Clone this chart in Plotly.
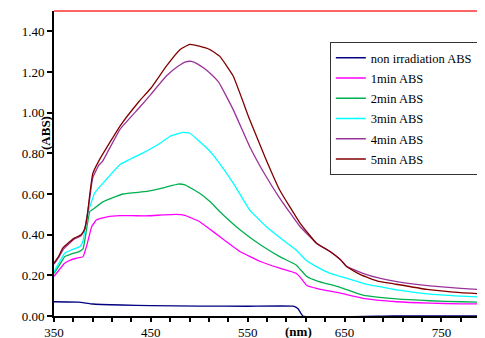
import plotly.graph_objects as go

# ---- data ----
wl_blue = [350, 375, 390, 420, 450, 500, 550, 597, 602, 607, 700, 795]
abs_blue = [0.070, 0.068, 0.059, 0.054, 0.051, 0.049, 0.048, 0.048, 0.036, 0.0, 0.0, 0.0]

wl_1 = [350, 355, 361, 367, 373, 380, 384, 389, 394, 405, 418, 435, 448, 462, 476, 485, 500, 511, 521,
        542, 563, 583, 600, 606, 611, 622, 635, 646, 669, 704, 738, 770, 795]
abs_1 = [0.195, 0.225, 0.260, 0.275, 0.284, 0.292, 0.350, 0.440, 0.473, 0.488, 0.494, 0.493, 0.493, 0.497,
         0.500, 0.495, 0.465, 0.427, 0.391, 0.317, 0.268, 0.235, 0.210, 0.180, 0.150, 0.135, 0.122, 0.112,
         0.087, 0.070, 0.063, 0.060, 0.059]

wl_2 = [350, 355, 361, 368, 376, 380, 387, 392, 400, 421, 446, 465, 478, 485, 500, 511, 521, 542, 563,
        583, 600, 606, 611, 622, 635, 646, 669, 704, 738, 770, 795]
abs_2 = [0.210, 0.245, 0.292, 0.305, 0.317, 0.330, 0.514, 0.531, 0.560, 0.600, 0.613, 0.633, 0.649,
         0.645, 0.605, 0.563, 0.514, 0.424, 0.350, 0.292, 0.251, 0.220, 0.194, 0.172, 0.155, 0.140, 0.103,
         0.084, 0.075, 0.070, 0.067]

wl_3 = [350, 355, 361, 368, 377, 380, 384, 392, 400, 418, 441, 458, 470, 483, 490, 500, 511, 518, 535,
        552, 569, 586, 600, 605, 610, 620, 635, 646, 669, 704, 738, 770, 795]
abs_3 = [0.218, 0.260, 0.309, 0.325, 0.342, 0.370, 0.490, 0.605, 0.650, 0.744, 0.800, 0.845, 0.884,
         0.903, 0.900, 0.859, 0.810, 0.769, 0.654, 0.522, 0.440, 0.375, 0.325, 0.300, 0.276, 0.245, 0.210,
         0.194, 0.161, 0.128, 0.108, 0.098, 0.092]

wl_4 = [350, 355, 360, 370, 378, 382, 386, 390, 396, 400, 418, 438, 450, 466, 478, 486, 492, 498, 505,
        512, 520, 535, 552, 569, 583, 604, 621, 635, 646, 652, 669, 686, 704, 738, 770, 795]
abs_4 = [0.255, 0.290, 0.330, 0.375, 0.395, 0.430, 0.550, 0.680, 0.740, 0.760, 0.917, 1.024, 1.090,
         1.180, 1.228, 1.250, 1.252, 1.240, 1.218, 1.190, 1.150, 1.015, 0.834, 0.686, 0.580, 0.440, 0.358,
         0.317, 0.275, 0.245, 0.210, 0.186, 0.169, 0.148, 0.136, 0.128]

wl_5 = [350, 355, 359, 365, 371, 378, 381, 384, 387, 390, 397, 418, 438, 450, 466, 480, 490, 500, 511,
        521, 535, 552, 569, 583, 604, 621, 635, 646, 652, 667, 684, 701, 735, 770, 795]
abs_5 = [0.260, 0.295, 0.334, 0.360, 0.383, 0.400, 0.420, 0.480, 0.600, 0.700, 0.769, 0.933, 1.056,
         1.120, 1.229, 1.310, 1.336, 1.327, 1.310, 1.278, 1.180, 0.966, 0.769, 0.620, 0.457, 0.358, 0.317,
         0.276, 0.243, 0.202, 0.172, 0.158, 0.131, 0.115, 0.108]

series = [
    ("non irradiation ABS", wl_blue, abs_blue, "#000080"),
    ("1min ABS", wl_1, abs_1, "#FF00FF"),
    ("2min ABS", wl_2, abs_2, "#00B050"),
    ("3min ABS", wl_3, abs_3, "#00FFFF"),
    ("4min ABS", wl_4, abs_4, "#993399"),
    ("5min ABS", wl_5, abs_5, "#800000"),
]

x_ticks = [350, 450, 550, 650, 750]
y_ticks = [0.0, 0.2, 0.4, 0.6, 0.8, 1.0, 1.2, 1.4]
y_tick_labels = ["0.00", "0.20", "0.40", "0.60", "0.80", "1.00", "1.20", "1.40"]

serif = "Liberation Serif, Times New Roman, serif"

fig = go.Figure()
for i, (name, xs, ys, col) in enumerate(series):
    fig.add_trace(go.Scatter(x=xs, y=ys, mode="lines", name=name, legendgroup=str(i),
                             line=dict(color=col, width=1.3, shape="spline", smoothing=0.35)))

# the page body has an 8px margin, so the figure is sized/offset to compensate
fig.update_layout(
    width=477, height=330,
    margin=dict(l=46, r=0, t=3, b=22, autoexpand=False),
    paper_bgcolor="white", plot_bgcolor="white",
    font=dict(family=serif, size=13, color="black"),
    showlegend=True,
    legend=dict(x=0.64, y=0.898, xanchor="left", yanchor="top",
                bgcolor="white", bordercolor="#333333", borderwidth=1,
                font=dict(family=serif, size=12.5, color="black"),
                tracegroupgap=1, itemwidth=30),
    xaxis=dict(range=[350, 795], tickvals=x_ticks, ticktext=[str(v) for v in x_ticks],
               automargin=False,
               showgrid=False, zeroline=False, showline=True, linecolor="black", linewidth=2,
               ticks="outside", ticklen=3, tickwidth=2, tickcolor="black",
               minor=dict(dtick=20, tick0=350, ticks="outside", ticklen=4, tickwidth=2, tickcolor="black"),
               tickfont=dict(family=serif, size=13)),
    yaxis=dict(range=[0, 1.5], tickvals=y_ticks, ticktext=y_tick_labels,
               automargin=False,
               showgrid=False, zeroline=False, showline=True, linecolor="black", linewidth=2,
               ticks="outside", ticklen=5, tickwidth=2, tickcolor="black",
               tickfont=dict(family=serif, size=13)),
)

# red frame line across the top of the plot area
fig.add_shape(type="line", xref="paper", yref="paper", x0=0, x1=1, y0=1, y1=1,
              line=dict(color="#FF3030", width=1.5))

fig.add_annotation(text="<b>(ABS)</b>", xref="paper", yref="y", x=0, y=0.90, xshift=-9,
                   xanchor="center", yanchor="middle",
                   textangle=-90, showarrow=False, font=dict(family=serif, size=13))
fig.add_annotation(text="<b>(nm)</b>", xref="x", yref="paper", x=602, y=0, yshift=-15,
                   xanchor="center", yanchor="middle",
                   showarrow=False, font=dict(family=serif, size=13))

fig.write_html("out.html")
